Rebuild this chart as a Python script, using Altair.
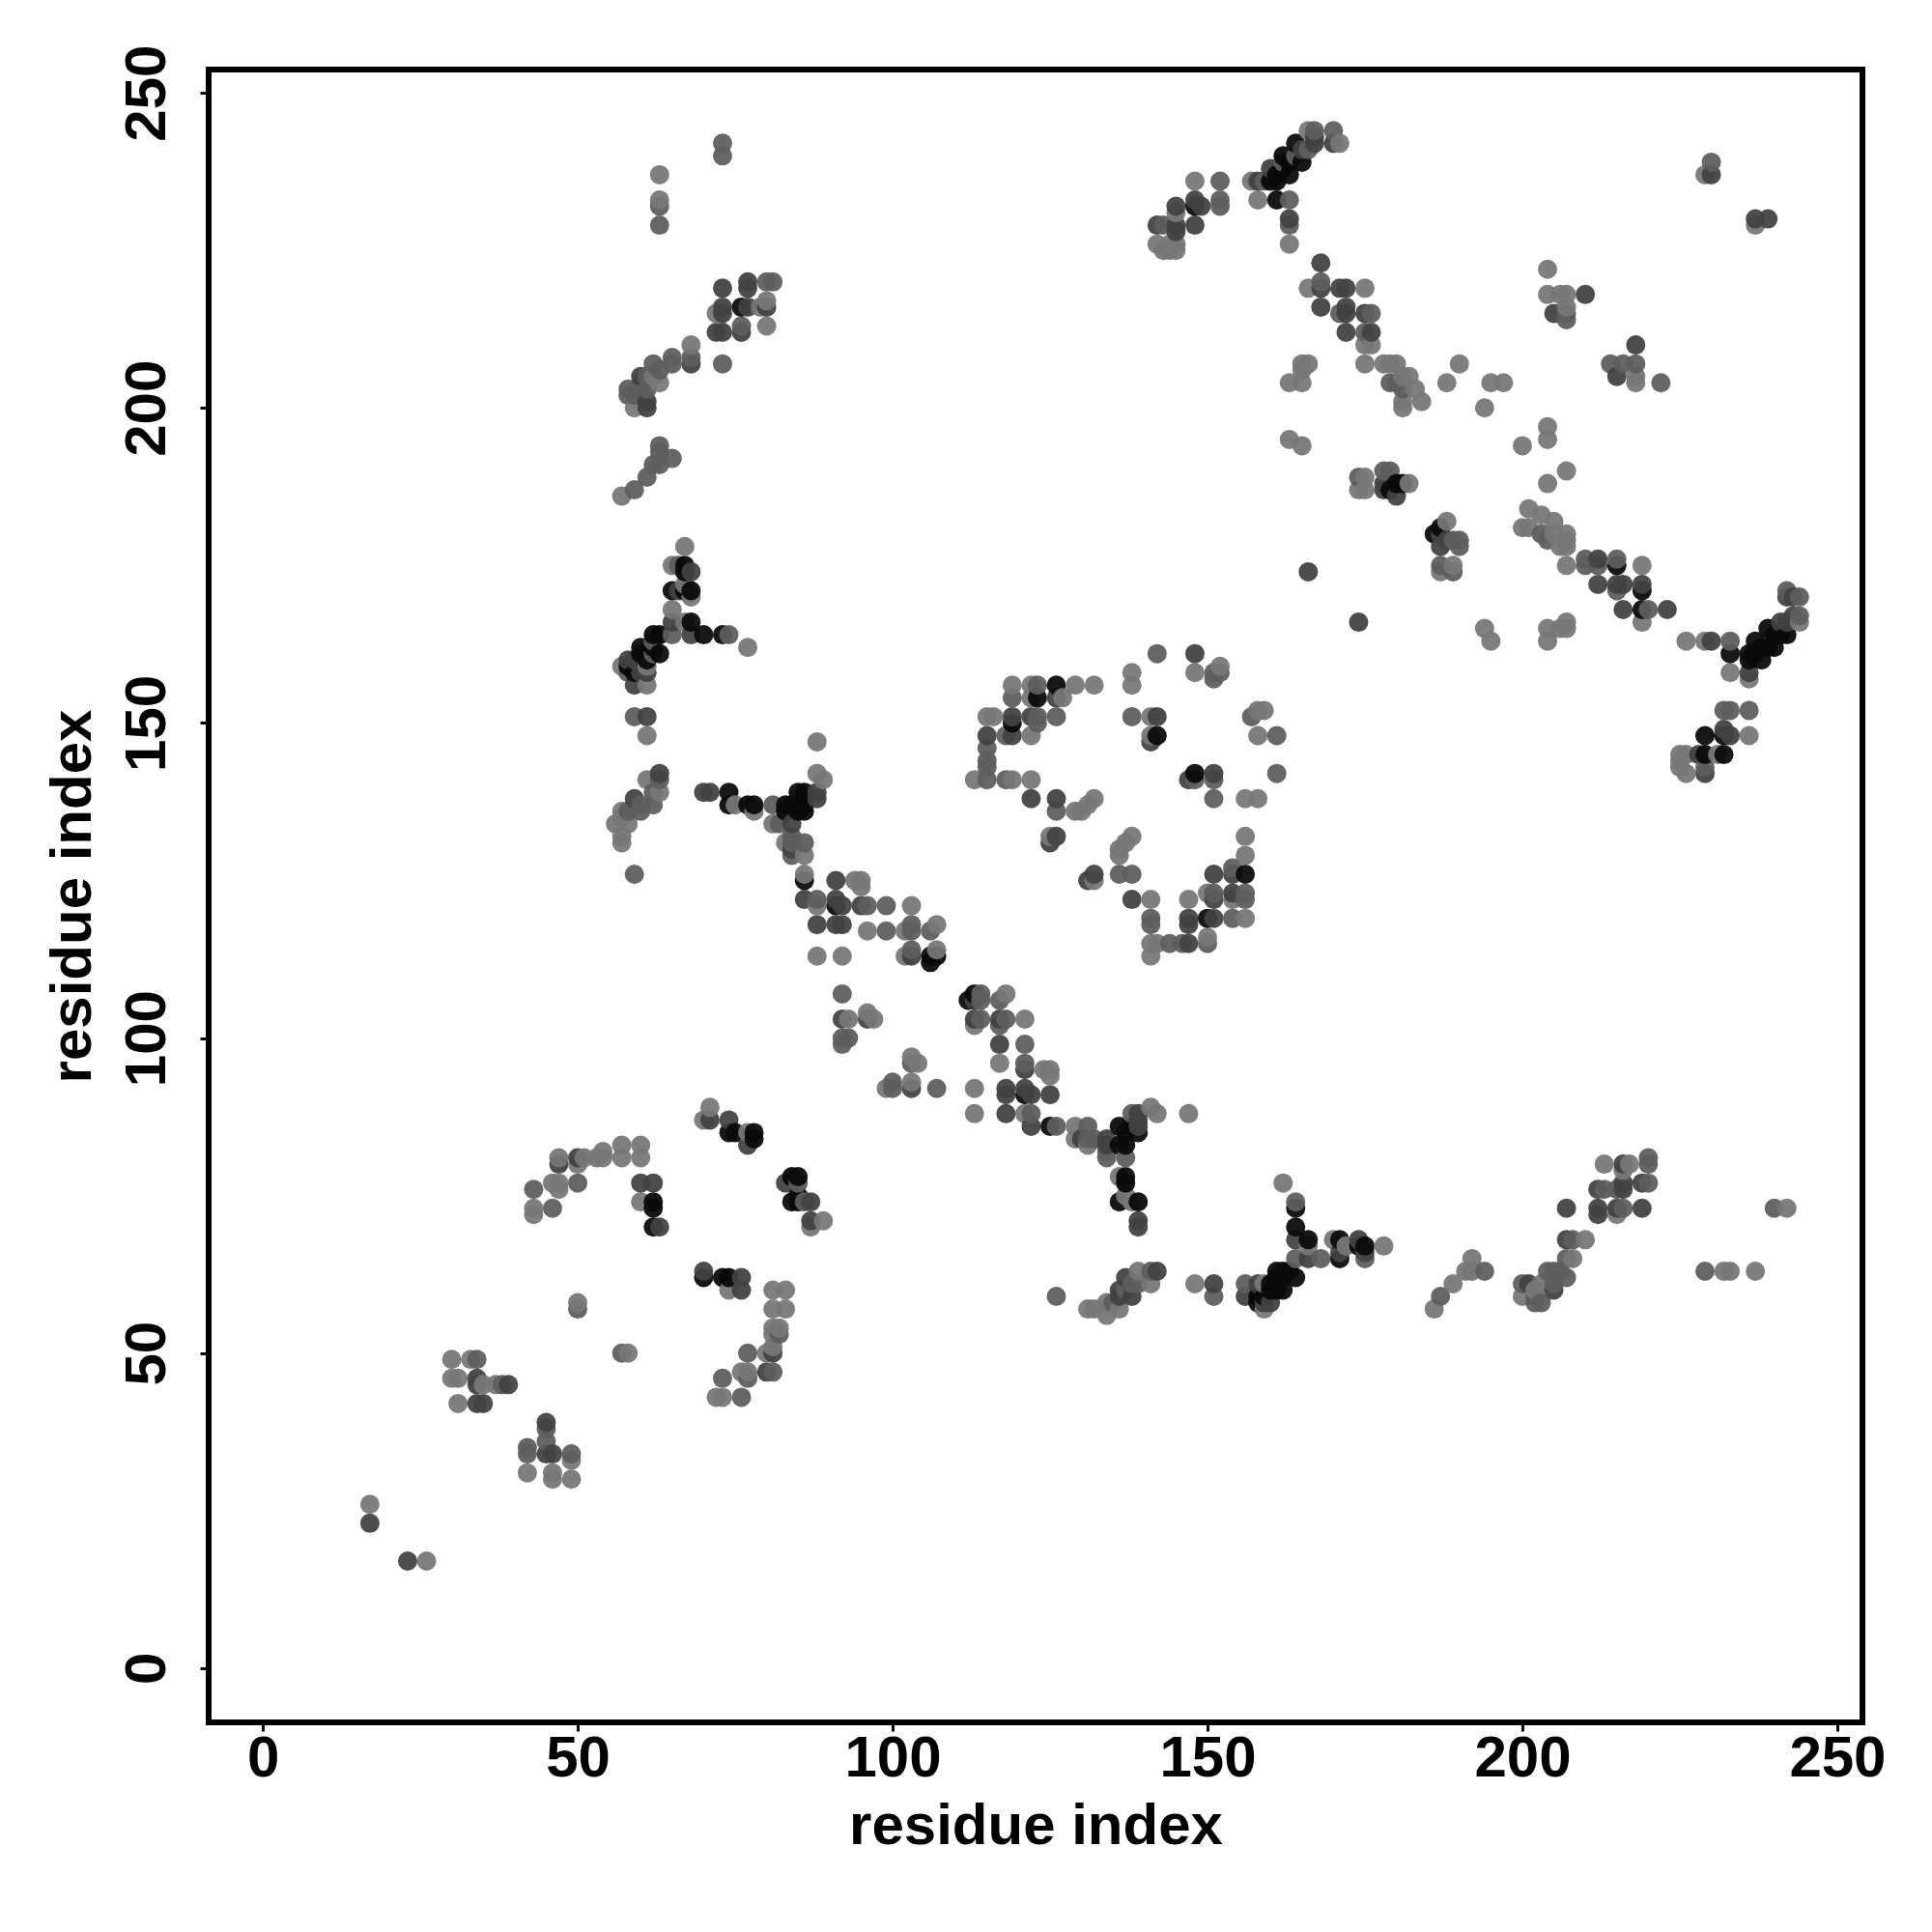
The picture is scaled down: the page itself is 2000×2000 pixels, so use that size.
import altair as alt
import pandas as pd

# (residue i, residue j, contact strength 1 = weak ... 4 = strong)
low_left = [
 (17,26,1),(17,23,3),(23,17,3),(26,17,1),
 (30,49,1),(33,49,1),(34,49,2),(30,46,1),(31,46,1),(34,46,3),(34,45,3),(35,45,1),(37,45,1),(38,45,2),(39,45,3),
 (31,42,1),(34,42,3),(35,42,3),
 (45,39,3),(45,38,2),(45,36,2),(45,34,3),(46,34,3),(42,35,2),(42,34,2),(49,34,2),(49,33,1),
 (42,31,1),(46,31,1),(46,30,1),(49,30,1),(50,58,1),(50,57,2),(57,50,2),(58,50,1),
 (46,73,2),(43,73,1),(43,72,1),(43,76,2),(46,77,1),(47,77,1),(47,76,1),(50,77,2),
 (47,81,1),(47,80,3),(50,81,3),(50,80,1),(51,81,1),(53,81,1),(54,82,1),(54,81,1),
 (57,83,1),(57,81,1),(60,83,1),(60,81,1),(60,77,3),(62,77,3),(60,74,1),(62,74,4),(62,73,4),(62,70,4),(63,70,3),
 (71,89,1),(70,87,1),(71,87,3),(74,87,3),(74,85,4),(75,85,4),(77,85,1),(78,85,4),(78,84,4),(77,83,3),
 (83,77,3),(84,78,4),(85,78,4),(85,77,2),(85,75,4),(84,74,4),(85,74,4),(86,74,2),(87,74,3),
 (87,71,3),(89,71,1),(87,70,1),
 (70,63,3),(70,62,4),(73,62,4),(74,62,4),(74,60,1),(76,62,3),(76,60,3),
 (81,60,1),(83,60,1),(81,57,1),(83,57,1),(81,54,1),(82,54,1),(82,53,2),(81,53,1),(81,51,1),
 (77,50,2),(80,50,1),(81,50,3),(77,47,1),(76,47,1),(77,46,2),(73,46,2),(80,47,3),(81,47,2),
 (72,43,1),(73,43,1),(76,43,2),
]
low_middle = [
 (99,92,1),(100,93,2),(100,92,2),(103,93,1),(103,92,3),(107,92,2),(113,92,1),(118,92,3),(118,91,3),
 (121,92,3),(121,91,4),(122,91,3),(125,91,3),(113,88,1),(118,88,3),(121,88,1),(122,88,2),(122,86,3),
 (125,86,4),(126,86,2),(129,86,1),(129,84,1),(131,86,2),(131,84,2),(132,84,2),(130,84,3),(131,83,1),
 (134,84,3),(134,83,3),(134,81,2),(134,82,2),(136,86,4),(136,83,4),(137,83,4),(137,81,2),
 (138,88,2),(139,88,3),(139,87,3),(138,86,4),(139,86,3),(139,85,4),(137,85,4),(141,89,1),(142,88,1),(147,88,1),
 (136,78,1),(137,78,4),(137,77,4),(137,75,1),(136,74,4),(138,74,1),(139,74,4),(139,71,3),(139,70,3),
 (126,59,2),(131,57,1),(132,57,1),(134,58,1),(134,56,1),(136,57,1),(135,58,2),(136,60,3),(137,62,3),(137,60,2),
 (138,59,3),(139,63,1),(138,61,2),(141,61,1),(141,63,2),(142,63,3),(139,61,2),(136,59,3),
 (148,61,1),(151,61,3),(151,59,2),(156,61,2),(156,59,3),(158,61,3),(158,59,4),(159,61,1),(159,57,1),
 (160,58,3),(160,61,4),(159,58,3),(161,63,4),(162,60,4),(162,63,4),(161,60,4),
]
low_right = [
 (162,77,1),(164,74,2),(164,73,4),(164,70,4),(164,68,3),(166,68,4),(166,67,1),(164,65,2),(166,65,3),(168,65,2),
 (170,68,1),(171,68,4),(171,65,4),(171,66,3),(172,67,1),(174,68,3),(175,67,4),(175,66,3),(175,65,2),(174,67,4),(178,67,1),
 (163,63,4),(164,62,4),(162,62,4),(161,62,4),(160,60,4),(159,59,4),(158,58,4),
 (192,65,1),(192,63,1),(191,63,1),(194,63,2),(189,61,1),(187,59,2),(186,57,1),
 (200,61,2),(201,61,3),(200,59,1),(202,60,1),(202,58,2),(203,58,2),(202,59,2),(205,60,3),(204,63,2),(205,63,2),
 (206,63,2),(207,62,2),(205,61,2),(203,61,1),(207,65,2),(208,65,1),(207,68,3),(208,68,2),(210,68,1),(207,73,3),
 (213,80,1),(216,80,3),(217,80,1),(216,79,1),(220,81,2),(220,80,2),(212,76,3),(213,76,2),(215,76,2),(216,77,3),
 (216,76,3),(219,77,3),(220,77,2),(212,73,3),(212,72,3),(215,73,3),(216,73,2),(215,72,1),(219,73,3),
 (229,63,2),(232,63,1),(233,63,1),(237,63,1),(240,73,2),(242,73,1),
]
mid_left = [
 (88,147,1),(63,142,3),(61,141,1),(63,141,2),(63,139,1),(62,139,2),(59,138,3),(62,137,2),(60,137,2),
 (57,136,1),(58,136,2),(60,136,2),(56,134,1),(58,134,1),(57,135,1),(57,132,1),(57,131,1),(59,126,2),
 (70,139,3),(71,139,3),(74,139,4),(74,137,4),(75,137,1),(77,137,4),(78,137,4),(78,136,1),(81,137,2),(83,137,4),
 (85,139,4),(86,139,4),(88,139,3),(89,141,1),(88,142,1),(88,138,3),(84,137,4),(85,137,4),(86,137,4),
 (83,136,4),(86,136,4),(85,136,4),(81,134,1),(82,134,2),(84,134,3),
 (83,131,1),(84,131,2),(86,131,2),(84,132,2),(84,129,2),(86,129,1),(84,130,3),
 (86,126,1),(86,125,4),(91,125,3),(94,125,1),(95,125,1),(95,124,1),
 (86,122,3),(88,122,2),(91,122,3),(88,121,1),(91,121,4),(92,121,3),(95,121,3),(96,121,2),(99,121,2),(103,121,1),
 (88,118,3),(91,118,3),(92,118,3),(103,118,2),(107,118,1),(96,117,1),(99,117,2),(102,117,1),(103,117,2),(106,117,2),
 (103,114,2),(107,114,1),(88,113,1),(92,113,1),(102,113,1),(103,113,3),(106,113,4),(107,113,4),(106,112,4),
 (92,107,2),(113,107,4),(114,107,2),(118,107,1),(112,106,4),(113,106,3),(114,106,2),(117,106,2),
 (92,103,3),(93,103,1),(96,104,1),(97,103,1),(96,103,3),(113,103,3),(114,103,2),(117,103,3),(118,103,2),(121,103,1),
 (113,102,1),(117,102,2),(93,100,2),(92,100,2),(92,99,2),(117,99,3),(121,99,2),
 (103,97,1),(104,96,1),(103,96,2),(117,96,1),(121,96,2),(121,95,3),(124,95,1),(125,95,1),(125,94,1),
 (100,93,2),(103,93,1),
]
ring = [
 (142,161,2),(148,161,3),(138,158,1),(148,158,1),(152,159,1),(151,158,2),(152,158,2),(151,157,2),
 (119,156,1),(122,156,1),(123,156,2),(126,156,4),(129,156,1),(132,156,1),(138,156,1),
 (119,154,2),(122,154,1),(123,154,4),(126,154,3),(127,154,1),
 (115,151,1),(116,151,1),(119,151,3),(122,151,3),(123,151,2),(126,151,2),(138,151,2),(141,151,1),(142,151,3),
 (157,151,2),(158,152,1),(159,152,1),(119,150,4),(123,150,2),
 (115,148,3),(118,148,2),(119,148,3),(122,148,1),(141,147,3),(142,148,4),(141,148,1),(158,148,1),(161,148,2),
 (115,146,2),(115,144,2),(115,143,2),
 (113,141,1),(115,141,2),(118,141,2),(119,141,1),(122,141,1),(147,141,3),(148,142,4),(148,141,2),(151,142,3),(151,141,2),(161,142,2),
 (122,138,3),(126,138,3),(151,138,2),(156,138,1),(158,138,1),(132,138,1),(131,137,1),
 (126,136,2),(129,136,1),(130,136,1),
 (126,132,3),(125,132,1),(125,131,3),(138,132,1),(156,132,1),(137,131,1),(136,130,1),(136,129,1),(156,129,1),
 (132,126,3),(131,125,3),(132,125,1),(136,126,2),(138,126,2),(151,126,3),(154,127,2),(154,126,3),(156,126,4),
 (138,122,3),(141,122,1),(147,122,1),(150,123,1),(151,123,2),(151,122,3),(154,123,3),(154,122,1),(156,123,2),(156,122,2),
 (141,119,2),(141,118,2),(147,119,3),(147,118,3),(150,119,4),(151,119,3),(154,119,2),(156,119,1),
 (141,115,1),(144,115,2),(146,115,2),(147,115,3),(150,116,1),(150,115,2),(141,113,1),(142,115,1),
]
upper_left = [
 (67,178,1),(65,175,1),(66,175,2),(67,175,4),(68,174,3),(67,174,4),(65,171,4),(66,171,3),(67,171,4),(68,171,4),(68,170,1),(67,172,1),
 (65,168,1),(65,166,3),(67,166,1),(68,166,4),(65,164,2),(68,164,3),(70,164,4),(73,164,4),(74,164,2),(77,162,1),
 (62,164,4),(63,164,4),(62,163,2),(60,162,4),(62,162,4),(63,161,4),(62,161,2),(60,161,4),(61,160,4),(59,160,3),
 (58,160,3),(57,159,1),(58,159,4),(59,158,4),(61,159,1),(61,158,3),(60,158,3),(59,156,3),(61,156,1),(58,158,2),
 (59,151,2),(61,151,3),(61,148,1),
 (73,242,2),(73,240,2),(63,237,1),(63,233,1),(63,232,2),(63,229,2),
 (77,220,3),(77,219,3),(80,220,2),(81,220,2),(73,219,3),(73,216,3),(73,215,3),(72,215,1),(76,216,4),(77,216,3),
 (80,217,1),(79,216,1),(80,216,3),(80,213,1),(72,212,3),(73,212,3),(76,213,2),(76,212,3),
 (68,210,1),(65,208,2),(68,208,2),(68,207,3),(65,207,2),(73,207,2),
 (62,207,2),(63,206,2),(60,205,3),(61,205,2),(63,204,1),(62,205,1),(60,203,2),(61,203,2),(58,203,2),(58,202,2),
 (59,202,2),(61,201,3),(61,200,3),(59,200,1),(60,204,2),
 (63,194,2),(63,193,2),(65,192,2),(63,191,2),(62,191,2),(61,189,2),(59,187,2),(57,186,1),
]
upper_right = [
 (166,244,1),(167,244,2),(170,244,2),(167,243,3),(170,242,3),(171,242,1),(167,242,3),(164,242,4),(165,241,3),(166,241,2),
 (162,240,4),(164,240,2),(165,239,4),(163,239,4),(162,239,2),(160,238,3),(163,237,4),(161,237,4),(162,238,4),
 (157,236,1),(158,236,3),(159,236,2),(160,236,4),(161,236,4),(148,236,1),(152,236,2),
 (158,233,1),(161,233,4),(163,233,2),(163,230,3),(163,229,2),(163,226,1),
 (145,232,3),(145,231,1),(148,233,3),(148,232,4),(149,232,3),(152,233,2),(152,232,2),
 (142,229,3),(143,229,2),(145,229,3),(145,228,3),(148,229,3),
 (142,226,1),(144,226,1),(143,225,1),(145,226,1),(145,225,1),(144,225,1),
 (168,223,3),(166,219,1),(168,220,2),(168,219,3),(171,219,3),(172,219,3),(175,219,1),
 (168,216,3),(171,215,2),(172,216,3),(172,215,3),(175,215,3),(176,215,2),
 (172,212,3),(175,212,2),(176,212,3),(175,210,1),(176,210,1),
 (175,207,1),(178,207,1),(180,207,1),(179,207,1),(190,207,1),
 (182,205,1),(181,205,1),(179,204,2),(180,204,2),(183,203,1),(181,203,2),(181,201,1),(181,200,1),(184,201,1),
 (188,204,1),(195,204,1),(197,204,1),(194,200,1),
 (165,207,1),(166,207,1),(165,206,1),(163,204,1),(165,204,1),(163,195,1),(165,194,1),(200,194,1),
 (204,197,1),(204,195,1),(207,190,1),(204,188,1),
 (174,189,2),(175,189,1),(174,187,1),(175,187,1),(178,190,2),(179,190,2),(178,188,3),(178,187,3),(180,188,4),
 (179,187,4),(180,186,3),(182,188,1),(181,188,4),
 (188,182,1),(187,181,4),(186,180,4),(187,180,3),(188,179,3),(187,178,3),(190,179,2),(190,178,2),(189,179,2),
 (187,175,2),(187,174,1),(189,175,1),(189,174,2),(166,174,3),(174,166,3),
 (194,165,1),(195,163,1),(204,165,1),(204,163,1),(206,165,1),(207,166,1),(207,165,1),
 (201,184,1),(200,181,1),(201,181,1),(203,183,1),(205,182,1),(203,180,2),(204,179,2),(205,180,1),
 (207,180,1),(207,178,1),(206,178,1),(207,179,1),(207,175,1),
 (230,239,2),(229,237,1),(230,237,3),(237,230,3),(237,229,1),(239,230,3),
 (204,222,1),(204,218,1),(206,218,1),(207,218,1),(210,218,3),(205,215,3),(207,214,2),(207,216,1),(207,215,2),
 (214,207,2),(215,205,3),(216,207,2),(218,207,2),(218,210,3),(218,205,1),(218,204,1),(222,204,2),
]
far_right = [
 (210,176,2),(210,175,2),(212,176,3),(212,175,2),(215,176,2),(215,175,4),(219,175,1),
 (212,172,3),(215,172,3),(216,172,3),(215,171,2),(219,172,3),(219,171,4),
 (216,168,3),(219,168,4),(220,168,2),(223,168,3),(219,166,1),
 (226,163,1),(229,163,1),(230,163,3),(233,163,2),(233,161,4),(233,158,1),
 (236,161,4),(236,160,4),(236,158,3),(236,157,1),(237,163,4),(238,160,4),(239,165,4),(239,162,4),(240,162,4),
 (242,164,4),(241,166,3),(240,164,4),(241,164,4),(238,162,4),(237,161,4),
 (242,171,2),(242,170,3),(243,170,3),(244,170,2),(244,167,2),(244,166,1),(243,167,3),(242,166,3),
 (232,152,2),(233,152,2),(236,152,2),(229,148,4),(232,149,3),(232,148,4),(233,148,3),(236,148,1),
 (228,145,3),(229,145,4),(231,145,1),(232,145,4),(225,145,1),(226,145,1),(225,144,1),(225,143,1),(226,142,1),
 (229,143,2),(229,142,3),
]

axis_ticks = [0, 50, 100, 150, 200, 250]
x_limits = [-8.6, 254]
y_limits = [-8.6, 253.7]
strengths = [1, 2, 3, 4]
shades = ["#777777", "#5e5e5e", "#424242", "#0a0a0a"]

rows = low_left + low_middle + low_right + mid_left + ring + upper_left + upper_right + far_right
df = pd.DataFrame(rows, columns=["i", "j", "strength"]).drop_duplicates(["i", "j"], keep="last")
df = df.sort_values(["i", "j"]).reset_index(drop=True)

FONT = "Liberation Sans"

chart = alt.Chart(df).mark_circle(size=400, opacity=0.94).encode(
    x=alt.X("i:Q",
            scale=alt.Scale(domain=x_limits, nice=False, zero=False),
            axis=alt.Axis(values=axis_ticks, title="residue index", grid=False, domain=False,
                          tickSize=9, tickWidth=3, tickColor="black",
                          labelFont=FONT, labelFontSize=60, labelFontWeight="bold", labelColor="black",
                          labelPadding=-1, labelFlush=False, labelOverlap=False,
                          titleFont=FONT, titleFontSize=60, titleFontWeight="bold", titleColor="black",
                          titlePadding=11)),
    y=alt.Y("j:Q",
            scale=alt.Scale(domain=y_limits, nice=False, zero=False),
            axis=alt.Axis(values=axis_ticks, title="residue index", grid=False, domain=False,
                          tickSize=9, tickWidth=3, tickColor="black",
                          labelFont=FONT, labelFontSize=60, labelFontWeight="bold", labelColor="black",
                          labelAngle=270, labelAlign="center", labelBaseline="bottom",
                          labelPadding=24, labelFlush=False, labelOverlap=False,
                          titleFont=FONT, titleFontSize=60, titleFontWeight="bold", titleColor="black",
                          titlePadding=16)),
    color=alt.Color("strength:O", scale=alt.Scale(domain=strengths, range=shades), legend=None),
    order=alt.Order("index:Q"),
).transform_window(index="row_number()").properties(
    width=1712,
    height=1711,
    autosize="none",
    padding={"left": 208, "top": 64, "right": 60, "bottom": 190},
).configure_view(stroke="black", strokeWidth=6)

chart.save("out.html", embed_options={"renderer": "svg", "actions": False})
